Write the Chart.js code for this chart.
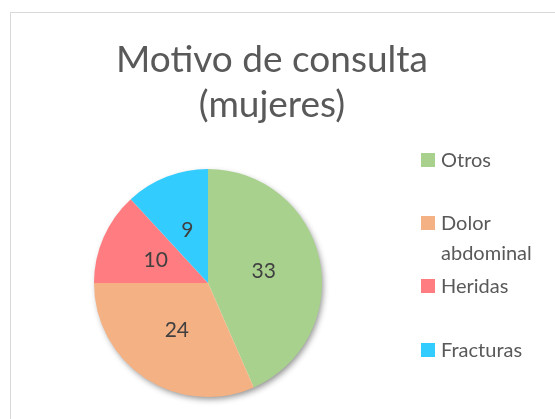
<!DOCTYPE html>
<html>
<head>
<meta charset="utf-8">
<script src="https://cdn.jsdelivr.net/npm/chart.js@4/dist/chart.umd.min.js"></script>
<style>
  html, body { margin: 0; padding: 0; background: #fff; }
  #wrap { width: 555px; height: 419px; }
</style>
</head>
<body>
<div id="wrap"><canvas id="chart"></canvas></div>
<script>
const titleLines = ['Motivo de consulta', '(mujeres)'];
const categories = ['Otros', 'Dolor abdominal', 'Heridas', 'Fracturas'];
const values = [33, 24, 10, 9];
const colors = ['#A9D18E', '#F4B183', '#FF7C80', '#33CCFF'];

const FONT = 'Lato, "Open Sans", sans-serif';

// frame, title, shadow, slice labels and legend drawn on the canvas
const decor = {
  id: 'decor',
  beforeDraw(chart) {
    const ctx = chart.ctx;
    ctx.save();
    ctx.fillStyle = '#fff';
    ctx.fillRect(0, 0, chart.width, chart.height);
    ctx.strokeStyle = '#d9d9d9';
    ctx.lineWidth = 1;
    ctx.strokeRect(10.5, 12.5, 600, 500);

    ctx.fillStyle = '#595959';
    ctx.font = '37px ' + FONT;
    ctx.textAlign = 'center';
    ctx.textBaseline = 'alphabetic';
    ctx.fillText(titleLines[0], 272, 72);
    ctx.fillText(titleLines[1], 272, 117);
    ctx.restore();
  },
  beforeDatasetsDraw(chart) {
    const arc = chart.getDatasetMeta(0).data[0];
    if (!arc) return;
    const ctx = chart.ctx;
    ctx.save();
    ctx.shadowColor = 'rgba(0,0,0,0.45)';
    ctx.shadowBlur = 6;
    ctx.shadowOffsetX = 2;
    ctx.shadowOffsetY = 3;
    ctx.fillStyle = '#fff';
    ctx.beginPath();
    ctx.arc(arc.x, arc.y, arc.outerRadius - 1, 0, Math.PI * 2);
    ctx.fill();
    ctx.restore();
  },
  afterDatasetsDraw(chart) {
    const ctx = chart.ctx;
    const meta = chart.getDatasetMeta(0);
    ctx.save();
    ctx.fillStyle = '#404040';
    ctx.font = '21px ' + FONT;
    ctx.textAlign = 'center';
    ctx.textBaseline = 'middle';
    meta.data.forEach((a, i) => {
      const p = a.getCenterPoint();
      ctx.fillText(String(values[i]), p.x, p.y);
    });

    // legend
    const tops = [153, 216, 279, 343];
    ctx.font = '20px ' + FONT;
    ctx.textAlign = 'left';
    ctx.textBaseline = 'alphabetic';
    categories.forEach((c, i) => {
      ctx.fillStyle = colors[i];
      ctx.fillRect(421, tops[i], 14, 14);
      ctx.fillStyle = '#595959';
      const words = c.split(' ');
      const lines = [];
      let cur = '';
      words.forEach(w => {
        const t = cur ? cur + ' ' + w : w;
        if (cur && ctx.measureText(t).width > 100) { lines.push(cur); cur = w; } else cur = t;
      });
      lines.push(cur);
      lines.forEach((l, j) => ctx.fillText(l, 441, tops[i] + 14 + j * 30));
    });
    ctx.restore();
  }
};

new Chart(document.getElementById('chart'), {
  type: 'pie',
  data: {
    labels: categories,
    datasets: [{
      data: values,
      backgroundColor: colors,
      borderWidth: 0
    }]
  },
  options: {
    responsive: true,
    maintainAspectRatio: false,
    animation: false,
    layout: { padding: { left: 94, right: 233, top: 169, bottom: 22 } },
    plugins: {
      legend: { display: false },
      title: { display: false },
      tooltip: { enabled: false }
    }
  },
  plugins: [decor]
});
</script>
</body>
</html>
